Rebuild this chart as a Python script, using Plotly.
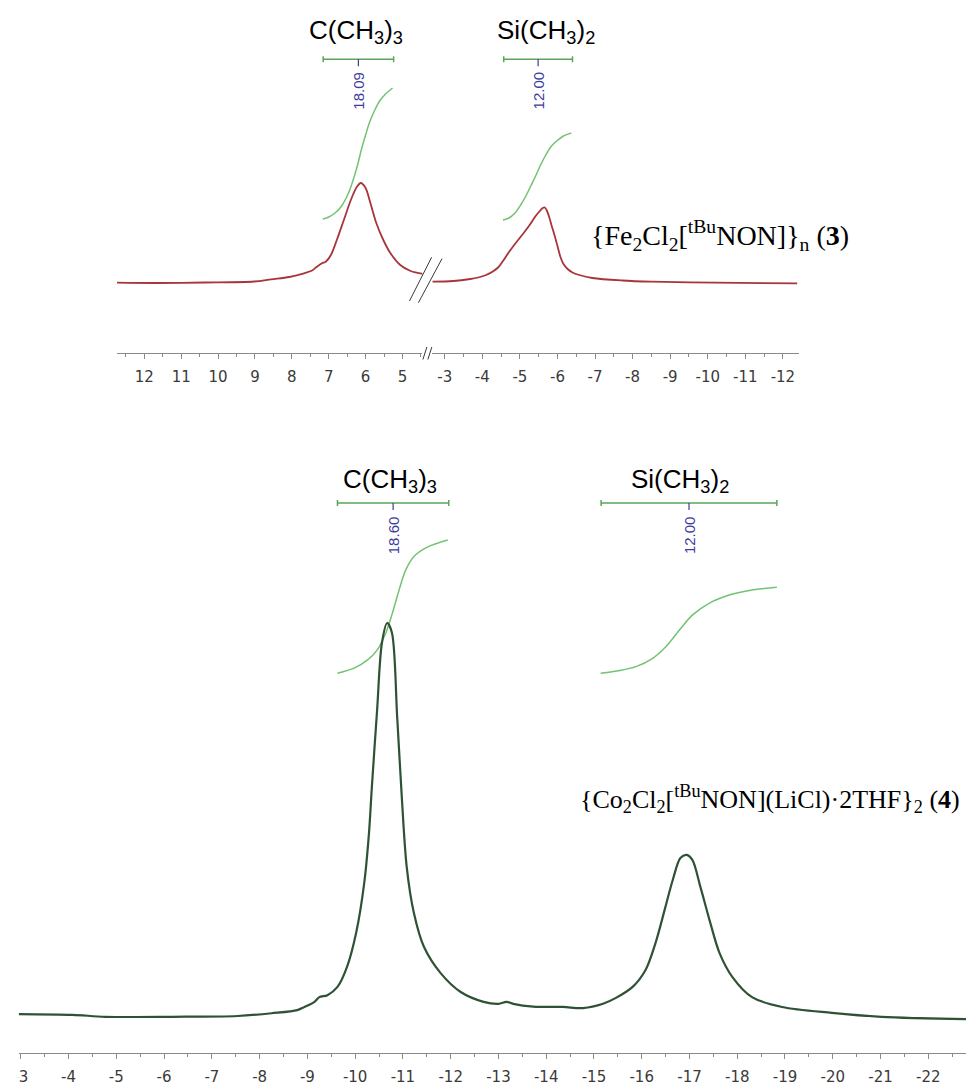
import plotly.graph_objects as go

W, H = 966, 1087

# ---------------- Spectrum of {Fe2Cl2[tBuNON]}n (3) ----------------
# downfield segment (left of the axis break)
fe_down_ppm = [12.74, 11.71, 10.36, 9.02, 8.56, 8.07, 7.67, 7.45, 7.32, 7.18, 7.08, 6.94, 6.78,
               6.59, 6.40, 6.24, 6.13, 6.00, 5.87, 5.71, 5.52, 5.33, 5.06, 4.78, 4.43]
fe_down_int = [0.3, 0.0, 0.5, 1.5, 3.7, 6.0, 9.7, 12.5, 16.3, 19.7, 21.3, 28.0, 43.0,
               63.0, 83.0, 96.0, 100.0, 95.0, 80.0, 60.0, 43.0, 30.0, 18.0, 12.0, 9.0]
# upfield segment (right of the axis break)
fe_up_ppm = [-2.67, -3.23, -3.68, -3.89, -4.10, -4.28, -4.42, -4.55, -4.71, -4.89, -5.08, -5.26,
             -5.42, -5.53, -5.61, -5.66, -5.71, -5.78, -5.84, -5.92, -6.00, -6.08, -6.16, -6.27,
             -6.40, -6.58, -6.93, -7.72, -8.51, -10.18, -12.38]
fe_up_int = [1.3, 2.0, 4.0, 5.5, 8.0, 11.5, 15.5, 22.0, 31.0, 40.0, 49.0, 58.0,
             67.0, 72.0, 75.0, 75.5, 73.0, 66.0, 58.0, 48.0, 37.0, 26.0, 19.0, 14.0,
             10.5, 8.0, 5.0, 2.5, 1.3, 0.3, -0.3]
# integral curves
fe_c_int_ppm = [7.16, 7.00, 6.83, 6.67, 6.54, 6.43, 6.32, 6.21, 6.11, 6.00, 5.89, 5.75, 5.62, 5.46, 5.27]
fe_c_int_val = [64.0, 66.0, 70.0, 76.0, 84.0, 93.0, 105.0, 119.0, 134.0, 148.0, 161.0, 173.0, 182.0, 189.0, 195.0]
fe_si_int_ppm = [-4.55, -4.71, -4.87, -5.02, -5.16, -5.29, -5.42, -5.55, -5.69, -5.82, -5.98, -6.16, -6.37]
fe_si_int_val = [63.0, 65.0, 70.0, 78.0, 87.0, 97.0, 107.0, 118.0, 128.0, 136.0, 142.0, 147.0, 150.0]
# integration regions
fe_region_start = [7.15, -4.57]
fe_region_end = [5.24, -6.40]
fe_region_axis = ["x", "x2"]
fe_integrals = ["18.09", "12.00"]

# ---------------- Spectrum of {Co2Cl2[tBuNON](LiCl)·2THF}2 (4) ----------------
co_ppm = [-2.94, -4.08, -4.77, -6.17, -7.54, -8.25, -8.79, -8.94, -9.15, -9.25, -9.42, -9.63, -9.83,
          -10.02, -10.19, -10.29, -10.35, -10.46, -10.56, -10.67, -10.77, -10.88, -10.98, -11.08,
          -11.23, -11.44, -11.79, -12.21, -12.69, -13.00, -13.17, -13.31, -13.73, -14.35, -14.77,
          -15.19, -15.46, -15.81, -16.08, -16.29, -16.48, -16.65, -16.81, -16.94, -17.06, -17.23,
          -17.42, -17.63, -17.90, -18.31, -18.94, -19.98, -21.02, -22.79]
co_int = [0.5, 0.3, -0.2, -0.2, 0.0, 0.7, 1.5, 2.3, 3.6, 4.8, 5.3, 7.4, 12.5,
          21.1, 33.8, 46.6, 58.3, 77.9, 94.9, 100.0, 97.5, 76.1, 55.0, 37.9,
          26.2, 17.6, 10.9, 6.1, 3.6, 3.1, 3.6, 3.1, 2.4, 2.3, 2.0,
          3.1, 4.6, 7.4, 11.7, 18.6, 27.0, 34.6, 40.2, 41.0, 39.7, 32.8,
          24.4, 16.0, 9.9, 4.8, 2.3, 0.8, -0.2, -0.8]
co_c_int_ppm = [-9.63, -9.98, -10.26, -10.46, -10.64, -10.78, -10.92, -11.06, -11.23, -11.51, -11.94]
co_c_int_val = [87.2, 88.5, 90.6, 93.1, 97.4, 102.5, 108.4, 113.5, 116.9, 119.3, 121.1]
co_si_int_ppm = [-15.14, -15.54, -15.88, -16.23, -16.51, -16.79, -17.06, -17.41, -17.83, -18.31, -18.83]
co_si_int_val = [87.2, 87.9, 88.9, 91.0, 94.0, 98.2, 102.0, 105.0, 107.1, 108.4, 109.1]
co_region_start = [-9.63, -15.15]
co_region_end = [-11.96, -18.83]
co_integrals = ["18.60", "12.00"]

group_labels = ["C(CH<sub>3</sub>)<sub>3</sub>", "Si(CH<sub>3</sub>)<sub>2</sub>"]

# tick labels
fe_down_ticks = [12, 11, 10, 9, 8, 7, 6, 5]
fe_up_ticks = [-3, -4, -5, -6, -7, -8, -9, -10, -11, -12]
co_ticks = [-3, -4, -5, -6, -7, -8, -9, -10, -11, -12, -13, -14, -15, -16, -17, -18, -19, -20, -21, -22]

fe_label = "{Fe<sub>2</sub>Cl<sub>2</sub>[<sup>tBu</sup>NON]}<sub>n</sub> (<b>3</b>)"
co_label = "{Co<sub>2</sub>Cl<sub>2</sub>[<sup>tBu</sup>NON](LiCl)·2THF}<sub>2</sub> (<b>4</b>)"

# ---------------- styling ----------------
RED = "#a8343c"
DKGREEN = "#2e5234"
INTG = "#74c274"
BRK = "#5aa55a"
BLUE = "#3d3d9e"
AXC = "#8a8a8a"


def px(v):
    return v / W


def py(v):
    return 1 - v / H


fig = go.Figure()
spline = dict(shape="spline", smoothing=0.9)

fig.add_trace(go.Scatter(x=fe_down_ppm, y=fe_down_int, xaxis="x", yaxis="y", mode="lines",
                         line=dict(color=RED, width=1.8, **spline), hoverinfo="skip"))
fig.add_trace(go.Scatter(x=fe_up_ppm, y=fe_up_int, xaxis="x2", yaxis="y", mode="lines",
                         line=dict(color=RED, width=1.8, **spline), hoverinfo="skip"))
fig.add_trace(go.Scatter(x=fe_c_int_ppm, y=fe_c_int_val, xaxis="x", yaxis="y", mode="lines",
                         line=dict(color=INTG, width=1.5, **spline), hoverinfo="skip"))
fig.add_trace(go.Scatter(x=fe_si_int_ppm, y=fe_si_int_val, xaxis="x2", yaxis="y", mode="lines",
                         line=dict(color=INTG, width=1.5, **spline), hoverinfo="skip"))
fig.add_trace(go.Scatter(x=co_c_int_ppm, y=co_c_int_val, xaxis="x3", yaxis="y3", mode="lines",
                         line=dict(color=INTG, width=1.5, **spline), hoverinfo="skip"))
fig.add_trace(go.Scatter(x=co_si_int_ppm, y=co_si_int_val, xaxis="x3", yaxis="y3", mode="lines",
                         line=dict(color=INTG, width=1.5, **spline), hoverinfo="skip"))
fig.add_trace(go.Scatter(x=co_ppm, y=co_int, xaxis="x3", yaxis="y3", mode="lines",
                         line=dict(color=DKGREEN, width=2.2, **spline), hoverinfo="skip"))

tickfont = dict(family="DejaVu Sans, Verdana, sans-serif", size=15, color="#3a3a3a")


def xax(domain, rng, ticks, anchor):
    return dict(domain=domain, range=rng, anchor=anchor, showgrid=False, zeroline=False,
                showline=True, linecolor=AXC, linewidth=1, ticks="outside", ticklen=5,
                tickcolor=AXC, tickwidth=1, tickvals=ticks, ticktext=[str(t) for t in ticks],
                tickfont=tickfont, ticklabelstandoff=5,
                minor=dict(dtick=0.5, tick0=0, ticks="outside", ticklen=3, tickcolor=AXC, showgrid=False))


top_axis_px = 353.3
bot_axis_px = 1052.7
fig.update_layout(
    width=W, height=H, margin=dict(l=0, r=0, t=0, b=0),
    paper_bgcolor="white", plot_bgcolor="white", showlegend=False,
    xaxis=xax([px(111.7), px(419)], [12.74, 4.46], fe_down_ticks, "y"),
    xaxis2=xax([px(429), px(798)], [-2.67, -12.43], fe_up_ticks, "y"),
    yaxis=dict(domain=[py(top_axis_px), 1], range=[-70.3, 283], visible=False),
    xaxis3=xax([px(13), 1], [-2.96, -22.79], co_ticks, "y3"),
    yaxis3=dict(domain=[py(bot_axis_px), py(430)], range=[-9.34, 149.1], visible=False),
)

shapes = []
annotations = []


def brackets(starts, ends, axes, yref, ylev, vals, label_shift, label_dx, num_shift):
    for i, (s, e) in enumerate(zip(starts, ends)):
        xr = axes[i]
        mid = (s + e) / 2
        shapes.append(dict(type="line", xref=xr, yref=yref, x0=s, x1=e, y0=ylev, y1=ylev,
                           line=dict(color=BRK, width=1.5)))
        for xx in (s, e):
            shapes.append(dict(type="line", xref=xr, yref=yref, ysizemode="pixel", yanchor=ylev,
                               x0=xx, x1=xx, y0=-3, y1=3, line=dict(color=BRK, width=1.5)))
        shapes.append(dict(type="line", xref=xr, yref=yref, ysizemode="pixel", yanchor=ylev,
                           x0=mid, x1=mid, y0=-7, y1=0, line=dict(color=BLUE, width=1.2)))
        annotations.append(dict(x=mid, y=ylev, xref=xr, yref=yref, text=group_labels[i],
                                showarrow=False, yshift=label_shift, xshift=label_dx[i],
                                xanchor="center", yanchor="middle",
                                font=dict(family="Liberation Sans, Arial, sans-serif", size=26, color="black")))
        annotations.append(dict(x=mid, y=ylev, xref=xr, yref=yref, text=vals[i], textangle=-90,
                                showarrow=False, yshift=num_shift, xanchor="center", yanchor="middle",
                                font=dict(family="Liberation Sans, Arial, sans-serif", size=15, color=BLUE)))


brackets(fe_region_start, fe_region_end, fe_region_axis, "y", 223.7, fe_integrals, 28, [-2, 8], -31)
brackets(co_region_start, co_region_end, ["x3", "x3"], "y3", 130.5, co_integrals, 23, [-3, -9], -32)

# axis break marks (top spectrum and axis)
for (x0, y0, x1, y1) in [(406, 301, 428.3, 257.3), (415, 302.7, 438.7, 258.7),
                         (419.5, 359.5, 423.5, 347), (424.5, 359.5, 428.5, 347)]:
    shapes.append(dict(type="line", xref="paper", yref="paper", x0=px(x0), y0=py(y0), x1=px(x1), y1=py(y1),
                       line=dict(color="#3a3a3a", width=1)))

# crop effect at left edge of bottom axis
shapes.append(dict(type="rect", xref="paper", yref="paper", x0=0, x1=px(12), y0=0, y1=py(1040),
                   fillcolor="white", line=dict(width=0), layer="above"))

annotations.append(dict(x=px(718), y=py(236), xref="paper", yref="paper", text=fe_label, showarrow=False,
                        xanchor="center", yanchor="middle",
                        font=dict(family="Liberation Serif, Times New Roman, serif", size=28, color="black")))
annotations.append(dict(x=px(769), y=py(799), xref="paper", yref="paper", text=co_label, showarrow=False,
                        xanchor="center", yanchor="middle",
                        font=dict(family="Liberation Serif, Times New Roman, serif", size=26, color="black")))
annotations.append(dict(x=px(482), y=py(1083.5), xref="paper", yref="paper", text="f1 (ppm)", showarrow=False,
                        xanchor="center", yanchor="top", font=dict(family="DejaVu Sans", size=15, color="#3a3a3a")))

fig.update_layout(shapes=shapes, annotations=annotations)

fig.write_html("out.html", config={"displayModeBar": False},
               post_script="document.body.style.margin='0';document.body.style.overflow='hidden';")
